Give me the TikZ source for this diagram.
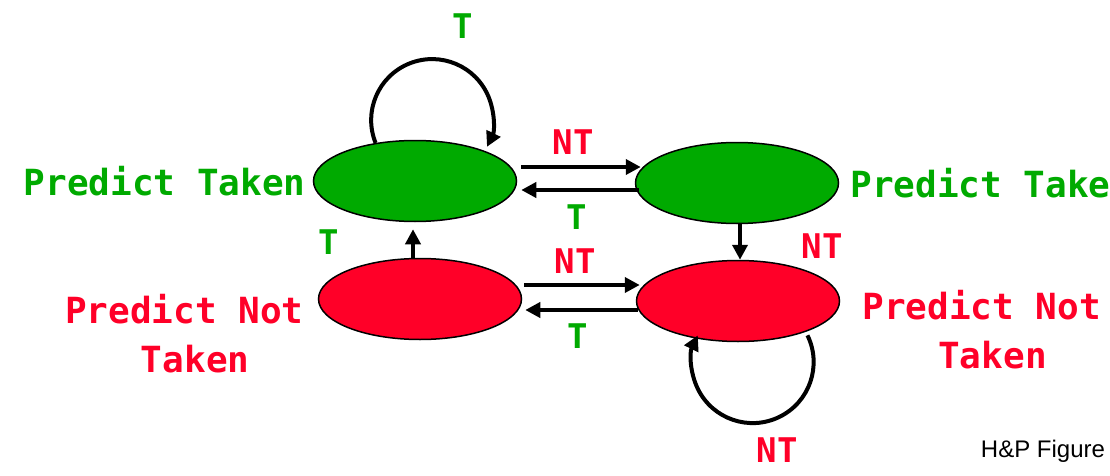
\documentclass[tikz,border=0pt]{standalone}
\usepackage{fontspec}
\usepackage{tikz}
\usetikzlibrary{shapes.geometric,arrows.meta,positioning}
\setmainfont{Liberation Sans}
\newfontfamily\statefont{DejaVu Sans Mono}
\definecolor{takengreen}{RGB}{0,170,0}
\definecolor{nottakenred}{RGB}{255,0,40}
\tikzset{
    state-taken/.style = {draw=black, fill=takengreen, ellipse, line width=1.5pt, minimum width=203pt, minimum height=81pt, inner sep=0pt},
    state-nottaken/.style = {state-taken, fill=nottakenred},
    move/.style = {line width=4pt, -{Triangle[length=15pt,width=15pt]}},
    state-text/.style = {font=\statefont\bfseries\fontsize{36}{49}\selectfont, inner sep=0pt, align=center},
    edge-text/.style = {font=\statefont\bfseries\fontsize{34}{40}\selectfont, inner sep=0pt},
}
\begin{document}
\begin{tikzpicture}[x=1pt,y=-1pt]
\useasboundingbox (0,0) rectangle (1110,476);
\node [state-taken] (pt-strong) at (415,181) {};
\node [state-taken] (pt-weak) at (737,183) {};
\node [state-nottaken] (pnt-weak) at (420,299) {};
\node [state-nottaken] (pnt-strong) at (738,301) {};
\node [state-text, text=takengreen, left=7pt of pt-strong] (lbl-pt-strong) {Predict Taken};
\node [state-text, text=takengreen, right=11pt of pt-weak] (lbl-pt-weak) {Predict Take};
\node [state-text, text=nottakenred, anchor=north east] (lbl-pnt-weak) at ([xshift=-14pt,yshift=5pt]pnt-weak.west) {Predict Not\\\hphantom{T}Taken};
\node [state-text, text=nottakenred, anchor=north west] (lbl-pnt-strong) at ([xshift=22pt,yshift=11pt]pnt-strong.east) {Predict Not\\\hphantom{T}Taken};
\draw [move] ([xshift=4pt,yshift=14pt]pt-strong.east) -- ([xshift=6pt,yshift=16pt]pt-weak.west);
\draw [move] ([xshift=4pt,yshift=-7pt]pt-weak.west) -- ([xshift=4pt,yshift=-9pt]pt-strong.east);
\draw [move] ([xshift=3pt]pt-weak.south) -- ([xshift=2pt]pnt-strong.north);
\draw [move] ([xshift=-7pt]pnt-weak.north) -- ([xshift=-2pt,yshift=-7pt]pt-strong.south);
\draw [move] ([xshift=2pt,yshift=14pt]pnt-weak.east) -- ([xshift=4pt,yshift=16pt]pnt-strong.west);
\draw [move] ([xshift=2pt,yshift=-9pt]pnt-strong.west) -- ([xshift=3pt,yshift=-11pt]pnt-weak.east);
\draw [move] (pt-strong.136) arc [start angle=202, end angle=-26, radius=61pt];
\draw [move] ([xshift=6pt,yshift=-2pt]pnt-strong.-27) arc [start angle=26, end angle=-206, radius=61pt];
\node [edge-text, text=takengreen] (t-loop) at (463,26) {T};
\node [edge-text, text=nottakenred] (nt-top) at (573,142) {NT};
\node [edge-text, text=takengreen] (t-top) at (577,217) {T};
\node [edge-text, text=takengreen] (t-up) at (329,242) {T};
\node [edge-text, text=nottakenred] (nt-down) at (822,246) {NT};
\node [edge-text, text=nottakenred] (nt-bottom) at (575,261) {NT};
\node [edge-text, text=takengreen] (t-bottom) at (578,336) {T};
\node [edge-text, text=nottakenred] (nt-loop) at (777,450) {NT};
\node [font=\fontsize{24}{28}\selectfont, inner sep=0pt] (credit) at (1043,451) {H\&P Figure};
\end{tikzpicture}
\end{document}
